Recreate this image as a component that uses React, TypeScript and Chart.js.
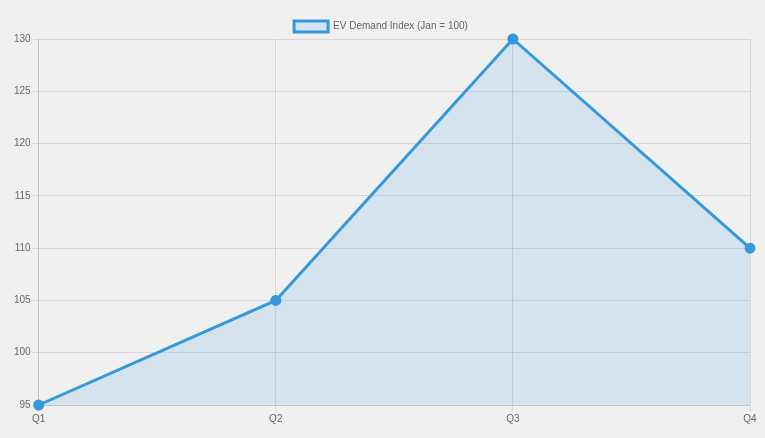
import React, { useEffect, useRef } from "react";
import { Chart, registerables } from "chart.js";

Chart.register(...registerables);

const categories = ["Q1", "Q2", "Q3", "Q4"];
const demandIndex = [95, 105, 130, 110];
const seriesLabel = "EV Demand Index (Jan = 100)";

const FONT = "'Liberation Sans', Arial, sans-serif";

const legendShift = {
  id: "legendShift",
  afterInit(chart: any) {
    const lg = chart.legend;
    if (!lg) return;
    const orig = lg.fit.bind(lg);
    lg.fit = function () {
      orig();
      this.height -= 3;
    };
  },
};

export default function App() {
  const ref = useRef<HTMLCanvasElement | null>(null);
  useEffect(() => {
    document.body.style.margin = "0";
    document.body.style.background = "#f0f0f0";
    if (!ref.current) return;
    const chart = new Chart(ref.current, {
      type: "line",
      data: {
        labels: categories,
        datasets: [
          {
            label: seriesLabel,
            data: demandIndex,
            borderColor: "#3498db",
            backgroundColor: "rgba(52,152,219,0.15)",
            borderWidth: 3,
            fill: true,
            tension: 0,
            pointRadius: 4,
            pointBackgroundColor: "#3498db",
            pointBorderColor: "#3498db",
            clip: false,
          } as any,
        ],
      },
      options: {
        animation: false,
        responsive: true,
        maintainAspectRatio: false,
        layout: { padding: { top: 11, left: 12, right: 15, bottom: 11 } },
        plugins: {
          legend: {
            labels: {
              color: "#666",
              boxWidth: 34,
              boxHeight: 11,
              font: { family: FONT, size: 10 },
            },
          },
          tooltip: { enabled: false },
        },
        scales: {
          x: {
            ticks: { color: "#666", padding: 2, font: { family: FONT, size: 10 } },
            grid: { color: "rgba(0,0,0,0.1)", tickLength: 6 },
          },
          y: {
            min: 95,
            max: 130,
            ticks: { stepSize: 5, color: "#666", padding: 2, font: { family: FONT, size: 10 } },
            grid: { color: "rgba(0,0,0,0.1)", tickLength: 6 },
          },
        },
      },
      plugins: [legendShift],
    });
    return () => chart.destroy();
  }, []);
  return (
    <div style={{ width: 765, height: 438, background: "#f0f0f0", position: "relative" }}>
      <canvas ref={ref} />
    </div>
  );
}
